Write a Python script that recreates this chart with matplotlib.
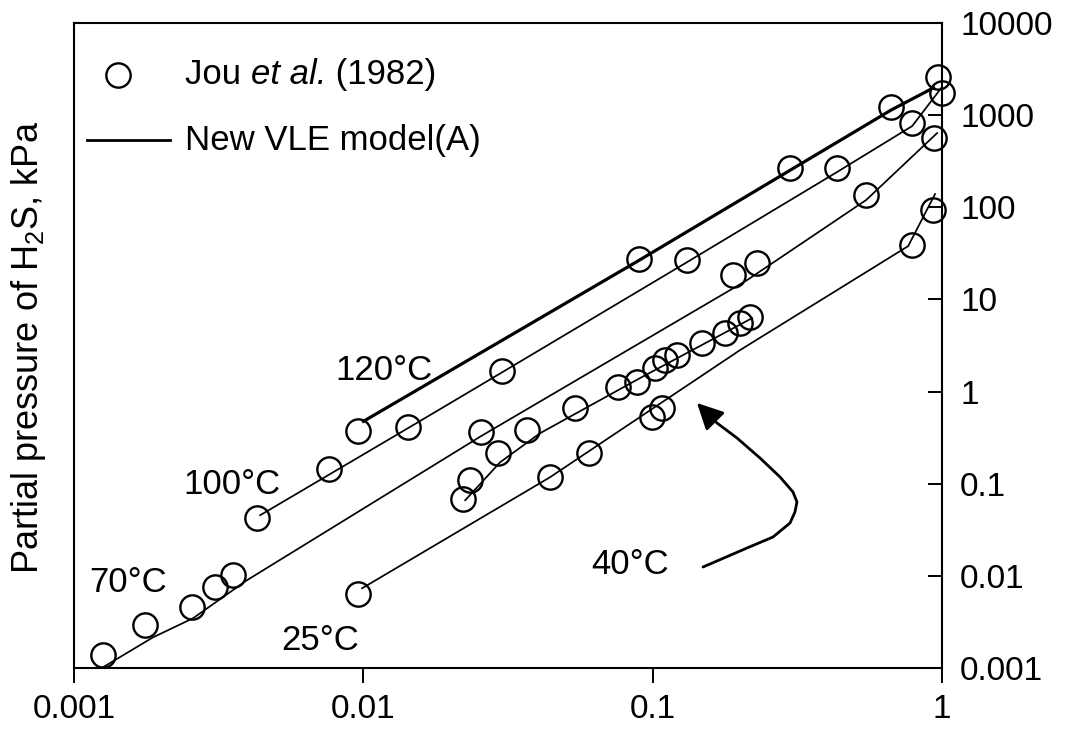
import matplotlib
matplotlib.use("Agg")
import matplotlib.pyplot as plt
from matplotlib.lines import Line2D
from matplotlib.patches import FancyArrowPatch
from matplotlib.path import Path
from matplotlib.ticker import FixedLocator, NullLocator

plt.rcParams['font.family'] = ['Liberation Sans', 'DejaVu Sans']
plt.rcParams['mathtext.fontset'] = 'custom'
plt.rcParams['mathtext.rm'] = 'Liberation Sans'
plt.rcParams['mathtext.it'] = 'Liberation Sans:italic'

# ---------------- data ----------------
# Jou et al. (1982) experimental points
exp120_x = [0.0096, 0.090, 0.299, 0.667, 0.970]
exp120_y = [0.371, 27.4, 266, 1225, 2590]
exp100_x = [0.00429, 0.00761, 0.01427, 0.0302, 0.1315, 0.4335, 0.789, 1.0]
exp100_y = [0.0422, 0.1436, 0.411, 1.66, 26.7, 266, 821, 1738]
exp70_x = [0.00126, 0.00176, 0.00256, 0.00307, 0.00355, 0.0255, 0.190, 0.230, 0.547, 0.940]
exp70_y = [0.00137, 0.00291, 0.00456, 0.00752, 0.0102, 0.362, 18.4, 24.8, 136, 564]
exp40_x = [0.0221, 0.0234, 0.0292, 0.0368, 0.0539, 0.0760, 0.0883, 0.102, 0.110,
           0.121, 0.148, 0.178, 0.200, 0.217]
exp40_y = [0.0679, 0.109, 0.214, 0.381, 0.660, 1.117, 1.265, 1.795, 2.19,
           2.48, 3.35, 4.31, 5.53, 6.43]
exp25_x = [0.0096, 0.0442, 0.0603, 0.0995, 0.1078, 0.789, 0.931]
exp25_y = [0.00631, 0.1177, 0.214, 0.527, 0.660, 38.9, 93.2]

# New VLE model(A) curves
mod120_x = [0.0099, 0.090, 0.299, 0.667, 0.946]
mod120_y = [0.466, 26.7, 253, 1136, 2020]
mod100_x = [0.0044, 0.01427, 0.0302, 0.1315, 0.4335, 0.789, 1.0]
mod100_y = [0.0455, 0.401, 1.62, 25.4, 241, 762, 2020]
mod70_x = [0.00126, 0.001875, 0.00258, 0.00396, 0.0255, 0.212, 0.547, 0.962]
mod70_y = [0.00102, 0.00215, 0.00347, 0.00896, 0.328, 16.2, 120, 639]
mod40_x = [0.0225, 0.0297, 0.0408, 0.0904, 0.2207]
mod40_y = [0.0662, 0.171, 0.353, 1.40, 6.27]
mod25_x = [0.0099, 0.0442, 0.2005, 0.764, 0.946]
mod25_y = [0.00733, 0.1177, 2.82, 37.9, 139]

x_ticks = [0.001, 0.01, 0.1, 1]
x_ticklabels = ['0.001', '0.01', '0.1', '1']
y_ticks = [0.001, 0.01, 0.1, 1, 10, 100, 1000, 10000]
y_ticklabels = ['0.001', '0.01', '0.1', '1', '10', '100', '1000', '10000']

temp_labels = ['120°C', '100°C', '70°C', '25°C', '40°C']
temp_label_pos = [(0.357, 0.462), (0.182, 0.284), (0.0622, 0.1318), (0.2834, 0.0419), (0.6406, 0.1597)]

# ---------------- figure ----------------
fig = plt.figure(figsize=(10.67, 7.37), dpi=100)
ax = fig.add_axes([74/1067, 1 - 668/737, 868/1067, 645/737])
ax.set_xscale('log')
ax.set_yscale('log')
ax.set_xlim(0.001, 1)
ax.set_ylim(0.001, 10000)

lw_thin = 1.25
ax.plot(mod120_x, mod120_y, color='black', lw=2.3, zorder=2, solid_capstyle='butt')
for mx, my in [(mod100_x, mod100_y), (mod70_x, mod70_y), (mod40_x, mod40_y), (mod25_x, mod25_y)]:
    ax.plot(mx, my, color='black', lw=lw_thin, zorder=2)

mk = dict(marker='o', ls='none', ms=17.5, mfc='none', mec='black', mew=1.7, clip_on=False)
for ex, ey in [(exp120_x, exp120_y), (exp100_x, exp100_y), (exp70_x, exp70_y),
               (exp40_x, exp40_y), (exp25_x, exp25_y)]:
    ax.plot(ex, ey, zorder=3, **mk)

# ticks
ax.xaxis.set_major_locator(FixedLocator(x_ticks))
ax.xaxis.set_minor_locator(NullLocator())
ax.set_xticklabels(x_ticklabels)
ax.yaxis.set_major_locator(FixedLocator(y_ticks))
ax.yaxis.set_minor_locator(NullLocator())
ax.yaxis.tick_right()
ax.set_yticklabels(y_ticklabels)
ax.tick_params(axis='x', direction='out', length=11, width=1.4, labelsize=24, pad=8)
ax.tick_params(axis='y', direction='in', length=10, width=1.4, labelsize=24, pad=13)
for s in ax.spines.values():
    s.set_linewidth(1.5)

# y label (left side)
fig.text(0.027, 0.528, 'Partial pressure of H$_2$S, kPa', rotation=90,
         ha='center', va='center', fontsize=26)

# temperature labels
for lab, (tx, ty) in zip(temp_labels, temp_label_pos):
    ax.text(tx, ty, lab, transform=ax.transAxes, ha='center', va='center', fontsize=25)

# curved arrow for 40°C
arrow_pts = [(0.7247, 0.1566), (0.7753, 0.1860), (0.8053, 0.2031), (0.8249, 0.2248),
             (0.8306, 0.2419), (0.8329, 0.2574), (0.8283, 0.2729), (0.8134, 0.2961),
             (0.7903, 0.3256), (0.7638, 0.3566), (0.7408, 0.3798), (0.7177, 0.4109)]
codes = [Path.MOVETO] + [Path.LINETO] * (len(arrow_pts) - 1)
arr = FancyArrowPatch(path=Path(arrow_pts, codes), arrowstyle='-|>', mutation_scale=40,
                      color='black', lw=2.0, transform=ax.transAxes, joinstyle='round',
                      capstyle='round')
ax.add_patch(arr)

# legend (drawn in axes coordinates)
ax.add_line(Line2D([0.0507], [0.9194], transform=ax.transAxes, **mk))
ax.add_line(Line2D([0.015, 0.1106], [0.8186, 0.8186], transform=ax.transAxes, color='black', lw=2.0))
t1 = ax.text(0.128, 0.9194, 'Jou ', transform=ax.transAxes,
             ha='left', va='center', fontsize=25)
t2 = ax.annotate('et al.', xy=(1, 0), xycoords=t1, ha='left', va='bottom',
                 fontsize=25, fontstyle='italic')
t3 = ax.annotate(' (1982)', xy=(1, 0), xycoords=t2, ha='left', va='bottom',
                 fontsize=25)
ax.text(0.128, 0.8186, 'New VLE model(A)', transform=ax.transAxes,
        ha='left', va='center', fontsize=25)

fig.savefig('out.png', dpi=100)
